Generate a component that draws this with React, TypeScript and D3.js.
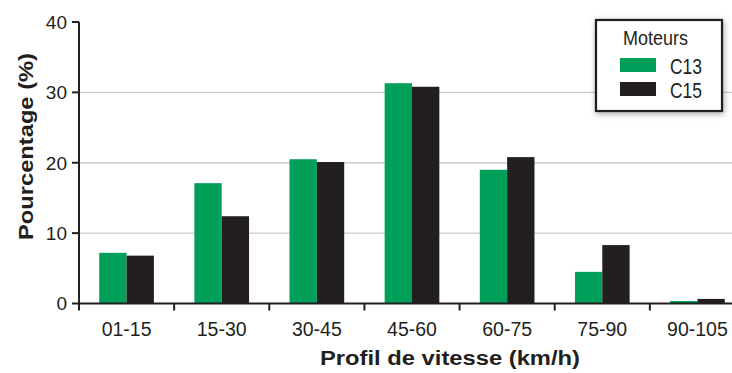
import React from "react";
import * as d3 from "d3";

const categories = ["01-15", "15-30", "30-45", "45-60", "60-75", "75-90", "90-105"];
const seriesNames = ["C13", "C15"];
const c13 = [7.2, 17.1, 20.5, 31.3, 19.0, 4.5, 0.35];
const c15 = [6.8, 12.4, 20.1, 30.8, 20.8, 8.3, 0.65];
const yTicks = [0, 10, 20, 30, 40];
const colors = ["#009f5a", "#231f20"];

const W = 732, H = 373;
const left = 79, right = 745, top = 22, bottom = 303.5;

export default function App() {
  const x = d3.scaleBand<string>().domain(categories).range([left, right]).paddingInner(0).paddingOuter(0);
  const y = d3.scaleLinear().domain([0, 40]).range([bottom, top]);
  const inner = d3.scaleBand<string>().domain(seriesNames).range([0, x.bandwidth()]).paddingInner(0).paddingOuter(0.74);
  const series = [c13, c15];
  const ink = "#231f20";
  const font = "Liberation Sans, Arimo, Arial, Helvetica, sans-serif";
  const narrow = "Liberation Sans Narrow, Liberation Sans, Arial, sans-serif";
  const tickPositions = categories.map((c) => x(c)!).concat([right]);
  const ts = { fontFamily: font };
  const ns = { fontFamily: narrow };
  return (
    <svg width={W} height={H} style={{ position: "absolute", left: 0, top: 0 }}>
      <defs>
        <filter id="sh" x="-20%" y="-20%" width="140%" height="140%">
          <feDropShadow dx="1" dy="2" stdDeviation="3" floodColor="#000" floodOpacity="0.35" />
        </filter>
      </defs>
      {yTicks.filter((t) => t > 0 && t < 40).map((t) => (
        <line key={t} x1={left} x2={W} y1={y(t)} y2={y(t)} stroke="#cccccc" strokeWidth={1.3} />
      ))}
      {series.map((vals, si) =>
        categories.map((c, i) => (
          <rect key={si + "-" + c} x={x(c)! + inner(seriesNames[si])!} y={y(vals[i])}
            width={inner.bandwidth()} height={bottom - y(vals[i])} fill={colors[si]} />
        ))
      )}
      <line x1={left} x2={left} y1={top} y2={bottom} stroke={ink} strokeWidth={2} />
      <line x1={left - 1} x2={W} y1={bottom} y2={bottom} stroke={ink} strokeWidth={2} />
      {yTicks.map((t) => (
        <g key={t}>
          <line x1={left - 7} x2={left} y1={y(t)} y2={y(t)} stroke={ink} strokeWidth={2} />
          <text x={left - 12} y={y(t) + 6.8} textAnchor="end" fontSize={19} fill={ink} style={ts}>{t}</text>
        </g>
      ))}
      {tickPositions.map((p, i) => (
        <line key={i} x1={p} x2={p} y1={bottom} y2={bottom + 7} stroke={ink} strokeWidth={2} />
      ))}
      {categories.map((c) => (
        <text key={c} x={x(c)! + x.bandwidth() / 2} y={336} textAnchor="middle" fontSize={19.5} fill={ink} style={ts}>{c}</text>
      ))}
      <text x={320} y={365} fontSize={20} fontWeight="bold" fill={ink} style={ts}
        textLength={260} lengthAdjust="spacingAndGlyphs">Profil de vitesse (km/h)</text>
      <text transform={`translate(33,240) rotate(-90)`} fontSize={20} fontWeight="bold" fill={ink} style={ts}
        textLength={187} lengthAdjust="spacingAndGlyphs">Pourcentage (%)</text>
      <g>
        <rect x={596} y={20} width={126} height={91} fill="#fff" stroke={ink} strokeWidth={2.2} filter="url(#sh)" />
        <text x={623} y={45} fontSize={21} fill={ink} style={ns} textLength={65} lengthAdjust="spacingAndGlyphs">Moteurs</text>
        {seriesNames.map((s, i) => (
          <g key={s}>
            <rect x={620} y={58 + i * 24} width={36} height={14} fill={colors[i]} />
            <text x={670} y={74 + i * 24} fontSize={21.5} fill={ink} style={ns} textLength={32} lengthAdjust="spacingAndGlyphs">{s}</text>
          </g>
        ))}
      </g>
    </svg>
  );
}
